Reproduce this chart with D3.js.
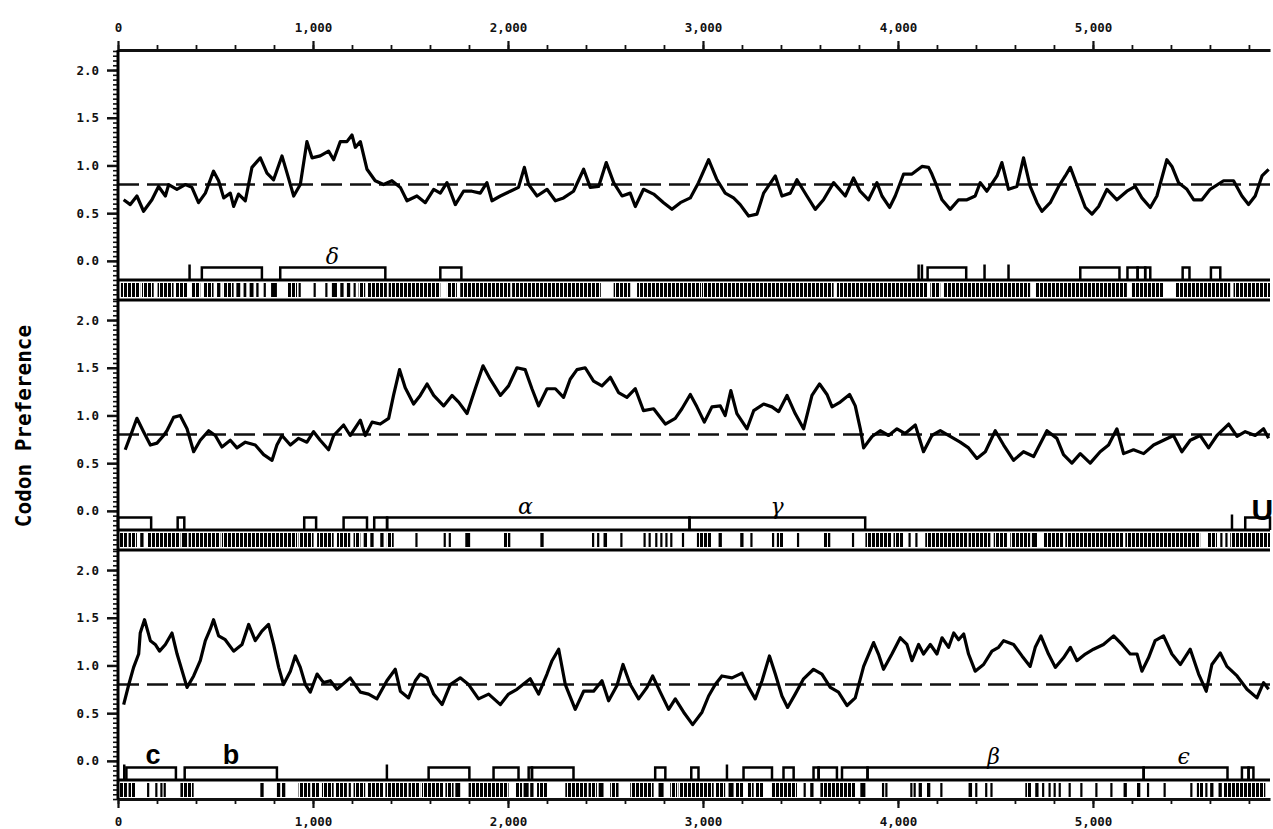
<!DOCTYPE html>
<html>
<head>
<meta charset="utf-8">
<script src="https://cdn.jsdelivr.net/npm/d3@7"></script>
<style>
body { margin: 0; background: #fff; }
svg { display: block; }
.axis text { font-family: "DejaVu Sans Mono", monospace; font-weight: bold; font-size: 12.5px; fill: #111; }
.axis line { stroke: #111; }
.axis path { stroke: #111; }
</style>
</head>
<body>
<svg width="1273" height="829"></svg>
<script>
// sequence extent and tick labels
var seqLength = 5908;
var xTicks = [0, 1000, 2000, 3000, 4000, 5000];
var yTicks = [0, 0.5, 1.0, 1.5, 2.0];
var cutoff = 0.8;

// codon preference traces: [position, value]
var trace1 = [[29,0.64],[63,0.59],[97,0.68],[131,0.52],[174,0.64],[208,0.78],[243,0.68],[260,0.80],[302,0.75],[345,0.80],[379,0.77],[413,0.61],[448,0.71],[490,0.94],[516,0.84],[542,0.66],[576,0.71],[593,0.57],[618,0.70],[653,0.63],[687,0.98],[730,1.08],[764,0.92],[798,0.85],[841,1.10],[867,0.92],[901,0.68],[935,0.80],[969,1.25],[995,1.08],[1037,1.10],[1080,1.15],[1106,1.06],[1140,1.25],[1174,1.25],[1200,1.32],[1217,1.19],[1243,1.25],[1277,0.96],[1319,0.84],[1362,0.80],[1405,0.84],[1448,0.77],[1482,0.63],[1533,0.68],[1576,0.61],[1619,0.75],[1653,0.71],[1687,0.82],[1730,0.59],[1772,0.73],[1815,0.73],[1858,0.71],[1892,0.82],[1918,0.63],[1961,0.68],[2012,0.73],[2054,0.77],[2084,0.98],[2106,0.80],[2149,0.68],[2200,0.75],[2243,0.63],[2285,0.66],[2336,0.73],[2388,0.96],[2422,0.77],[2465,0.78],[2504,1.03],[2542,0.82],[2585,0.68],[2627,0.71],[2653,0.57],[2695,0.75],[2747,0.70],[2798,0.61],[2841,0.54],[2884,0.61],[2935,0.66],[2977,0.82],[3029,1.06],[3072,0.85],[3114,0.71],[3157,0.66],[3191,0.59],[3234,0.47],[3277,0.49],[3311,0.71],[3371,0.89],[3405,0.68],[3448,0.71],[3482,0.85],[3533,0.68],[3576,0.54],[3618,0.64],[3670,0.82],[3730,0.68],[3772,0.87],[3806,0.73],[3849,0.64],[3892,0.82],[3918,0.68],[3957,0.56],[3986,0.68],[4029,0.91],[4072,0.91],[4123,0.99],[4157,0.98],[4174,0.91],[4200,0.78],[4226,0.64],[4268,0.54],[4311,0.64],[4354,0.64],[4396,0.68],[4422,0.82],[4456,0.73],[4508,0.89],[4533,1.03],[4567,0.75],[4610,0.78],[4644,1.08],[4678,0.78],[4713,0.61],[4738,0.52],[4781,0.61],[4824,0.78],[4858,0.89],[4884,0.98],[4926,0.75],[4961,0.56],[4995,0.49],[5029,0.57],[5072,0.75],[5123,0.64],[5174,0.73],[5217,0.78],[5251,0.66],[5294,0.56],[5328,0.68],[5379,1.06],[5405,0.99],[5439,0.82],[5482,0.75],[5517,0.64],[5559,0.64],[5601,0.75],[5670,0.84],[5721,0.84],[5764,0.68],[5798,0.59],[5832,0.68],[5867,0.89],[5901,0.96]];

var trace2 = [[37,0.64],[72,0.83],[97,0.97],[131,0.83],[166,0.69],[200,0.71],[234,0.79],[251,0.84],[285,0.98],[319,1.00],[354,0.86],[388,0.62],[422,0.74],[465,0.84],[499,0.79],[533,0.67],[576,0.74],[610,0.66],[653,0.72],[704,0.69],[747,0.59],[790,0.53],[815,0.69],[841,0.79],[884,0.69],[926,0.76],[969,0.72],[1003,0.83],[1037,0.74],[1080,0.64],[1106,0.79],[1157,0.90],[1191,0.79],[1243,0.95],[1268,0.79],[1303,0.93],[1345,0.91],[1388,0.97],[1413,1.21],[1444,1.48],[1473,1.29],[1516,1.12],[1550,1.21],[1585,1.33],[1619,1.21],[1670,1.10],[1713,1.21],[1747,1.14],[1790,1.02],[1832,1.28],[1872,1.52],[1909,1.38],[1961,1.21],[2003,1.31],[2046,1.50],[2088,1.48],[2123,1.28],[2157,1.10],[2200,1.28],[2243,1.28],[2285,1.19],[2319,1.38],[2354,1.48],[2396,1.50],[2439,1.36],[2482,1.31],[2525,1.40],[2567,1.24],[2610,1.19],[2653,1.28],[2695,1.05],[2747,1.07],[2807,0.91],[2858,0.97],[2892,1.07],[2935,1.22],[2969,1.09],[3007,0.93],[3046,1.09],[3089,1.10],[3114,1.00],[3143,1.26],[3174,1.02],[3226,0.86],[3260,1.05],[3311,1.12],[3354,1.09],[3388,1.04],[3431,1.21],[3473,1.02],[3516,0.86],[3559,1.21],[3598,1.33],[3636,1.22],[3662,1.09],[3704,1.14],[3752,1.22],[3781,1.10],[3807,0.86],[3824,0.66],[3867,0.78],[3909,0.84],[3952,0.79],[3995,0.86],[4037,0.81],[4089,0.90],[4131,0.62],[4174,0.79],[4217,0.84],[4268,0.78],[4319,0.72],[4362,0.66],[4405,0.55],[4448,0.62],[4499,0.84],[4542,0.69],[4593,0.53],[4644,0.62],[4696,0.57],[4764,0.84],[4815,0.76],[4849,0.59],[4892,0.50],[4935,0.60],[4986,0.50],[5037,0.62],[5080,0.69],[5123,0.86],[5157,0.60],[5208,0.64],[5260,0.60],[5311,0.69],[5362,0.74],[5413,0.79],[5456,0.62],[5499,0.74],[5550,0.79],[5593,0.66],[5636,0.79],[5696,0.91],[5739,0.78],[5781,0.83],[5832,0.79],[5875,0.86],[5901,0.76]];

var trace3 = [[29,0.59],[54,0.79],[80,0.98],[106,1.12],[114,1.34],[136,1.48],[166,1.26],[191,1.22],[213,1.15],[243,1.22],[277,1.34],[303,1.12],[354,0.77],[388,0.89],[422,1.05],[448,1.26],[473,1.38],[490,1.48],[516,1.31],[550,1.27],[593,1.15],[636,1.22],[670,1.43],[704,1.26],[738,1.36],[772,1.43],[798,1.22],[824,0.98],[849,0.80],[884,0.94],[909,1.10],[935,0.98],[961,0.80],[986,0.72],[1021,0.91],[1054,0.82],[1089,0.84],[1123,0.75],[1191,0.87],[1243,0.72],[1285,0.70],[1328,0.65],[1379,0.84],[1422,0.96],[1448,0.73],[1490,0.66],[1525,0.84],[1550,0.91],[1585,0.87],[1619,0.70],[1662,0.59],[1704,0.80],[1755,0.87],[1798,0.80],[1849,0.65],[1901,0.70],[1961,0.59],[2003,0.70],[2046,0.75],[2114,0.86],[2157,0.70],[2200,0.91],[2226,1.05],[2260,1.17],[2294,0.80],[2345,0.54],[2388,0.73],[2439,0.73],[2482,0.84],[2516,0.63],[2559,0.79],[2590,1.01],[2627,0.80],[2670,0.65],[2713,0.77],[2742,0.89],[2781,0.72],[2824,0.54],[2858,0.65],[2901,0.51],[2947,0.38],[2995,0.51],[3029,0.68],[3063,0.80],[3097,0.89],[3149,0.87],[3200,0.92],[3234,0.77],[3268,0.65],[3303,0.84],[3341,1.10],[3371,0.91],[3405,0.68],[3434,0.56],[3473,0.70],[3516,0.86],[3567,0.96],[3610,0.91],[3653,0.77],[3695,0.72],[3739,0.58],[3781,0.66],[3824,0.99],[3875,1.24],[3900,1.12],[3926,0.96],[3969,1.12],[4012,1.29],[4046,1.22],[4072,1.05],[4106,1.22],[4131,1.12],[4166,1.22],[4200,1.12],[4226,1.29],[4260,1.19],[4286,1.34],[4311,1.27],[4337,1.33],[4362,1.12],[4396,0.94],[4439,1.01],[4482,1.15],[4516,1.19],[4542,1.26],[4593,1.22],[4636,1.10],[4678,0.99],[4704,1.19],[4733,1.31],[4772,1.12],[4807,0.98],[4849,1.08],[4884,1.19],[4918,1.05],[4961,1.12],[5003,1.17],[5054,1.22],[5106,1.31],[5149,1.22],[5191,1.12],[5226,1.12],[5251,0.94],[5285,1.08],[5319,1.26],[5362,1.31],[5405,1.12],[5448,1.01],[5499,1.17],[5542,0.91],[5581,0.73],[5610,1.01],[5653,1.13],[5687,0.99],[5739,0.89],[5790,0.75],[5841,0.66],[5875,0.82],[5901,0.75]];

// open reading frames: [start, end, label, labelPos]
var orfs1 = [[367,367],[430,738],[832,1371,"δ",1100],[1653,1761],[4106,4106],[4123,4123],[4152,4350],[4444,4444],[4567,4567],[4935,5136],[5177,5229],[5229,5268],[5268,5294],[5460,5495],[5605,5653]];
var orfs2 = [[0,170],[306,340],[955,1016],[1157,1277],[1314,1380],[1380,2931,"α",2090],[2931,3832,"γ",3380],[5713,5713],[5781,5908,"U",5869]];
var orfs3 = [[32,32],[43,297,"c",180],[342,815,"b",580],[1379,1379],[1593,1802],[1926,2054],[2106,2123],[2123,2336],[2755,2807],[2940,2977],[3123,3123],[3208,3354],[3413,3465],[3567,3593],[3593,3687],[3713,3844],[3844,5260,"β",4490],[5260,5690,"ϵ",5465],[5764,5798],[5798,5823]];

// stop codon marks: [start, end]
var stops1 = [[15,114],[123,183],[203,285],[294,354],[379,422],[436,490],[508,525],[538,593],[607,627],[644,658],[675,695],[709,721],[747,755],[785,815],[870,918],[926,935],[1003,1012],[1063,1072],[1097,1123],[1140,1157],[1174,1191],[1208,1217],[1234,1268],[1277,1379],[1388,1653],[1687,1738],[1755,2012],[2021,2476],[2542,2627],[2662,2990],[2995,3670],[3687,4149],[4166,4217],[4234,4678],[4704,5174],[5200,5362],[5422,5704],[5721,5908]];
var stops2 = [[0,46],[54,97],[114,131],[149,320],[328,354],[362,525],[533,918],[926,1003],[1021,1106],[1123,1191],[1208,1243],[1260,1277],[1294,1311],[1345,1362],[1379,1414],[1525,1533],[1670,1670],[1696,1696],[1781,1806],[1977,2012],[2166,2183],[2431,2431],[2457,2457],[2490,2508],[2576,2576],[2695,2695],[2721,2721],[2755,2755],[2781,2781],[2807,2807],[2832,2832],[2892,2892],[2969,3046],[3080,3097],[3191,3208],[3243,3243],[3354,3354],[3379,3413],[3482,3482],[3619,3653],[3764,3772],[3833,3969],[3977,4029],[4054,4063],[4089,4097],[4140,4354],[4362,4474],[4491,4559],[4576,4678],[4687,4713],[4747,4850],[4858,5157],[5166,5550],[5585,5636],[5653,5661],[5679,5687],[5704,5908]];
var stops3 = [[0,46],[54,89],[149,157],[191,200],[217,225],[234,243],[320,388],[730,747],[815,832],[841,858],[926,986],[995,1036],[1046,1106],[1114,1174],[1183,1191],[1208,1268],[1277,1362],[1371,1482],[1490,1550],[1559,1670],[1679,1721],[1730,1755],[1798,2003],[2037,2072],[2080,2106],[2114,2131],[2149,2200],[2294,2405],[2413,2456],[2465,2490],[2524,2567],[2627,2747],[2772,2798],[2832,2867],[2875,3055],[3063,3114],[3131,3157],[3166,3208],[3226,3260],[3268,3311],[3354,3482],[3516,3525],[3550,3567],[3602,3781],[3807,3833],[3918,3926],[3935,3943],[4063,4072],[4080,4089],[4106,4123],[4149,4166],[4217,4226],[4362,4380],[4396,4405],[4447,4456],[4474,4482],[4653,4687],[4704,4721],[4739,4747],[4772,4781],[4798,4807],[4824,4833],[4875,4884],[4935,4943],[5012,5021],[5089,5097],[5157,5174],[5226,5243],[5277,5285],[5362,5371],[5499,5508],[5533,5568],[5576,5585],[5601,5618],[5644,5661],[5670,5884]];

var svg = d3.select('svg');
var left = 118, right = 1270;
var panelH = 250;
var panels = [
    {top: 50, trace: trace1, orfs: orfs1, stops: stops1},
    {top: 300, trace: trace2, orfs: orfs2, stops: stops2},
    {top: 550, trace: trace3, orfs: orfs3, stops: stops3}
];
var bottom = panels[2].top + panelH - 1;

var x = d3.scaleLinear().domain([0, seqLength]).range([left, right]);

// striped fill for the stop codon band
svg.append('defs').append('pattern')
    .attr('id', 'stripes')
    .attr('patternUnits', 'userSpaceOnUse')
    .attr('width', 4).attr('height', 20)
    .append('rect')
    .attr('width', 3).attr('height', 20)
    .attr('fill', '#000');

panels.forEach(function (p) {
    var y = d3.scaleLinear().domain([-0.41, 2.21]).range([p.top + panelH, p.top]);
    var g = svg.append('g');

    // y axis minor + major ticks
    var minor = d3.range(-40, 221, 5).map(function (d) { return d / 100; });
    g.append('g').attr('class', 'axis')
        .attr('transform', 'translate(' + left + ',0)')
        .call(d3.axisLeft(y).tickValues(minor).tickSize(5).tickFormat(''))
        .call(function (a) { a.select('.domain').remove(); })
        .selectAll('line').attr('stroke-width', 1.6);
    g.append('g').attr('class', 'axis')
        .attr('transform', 'translate(' + left + ',0)')
        .call(d3.axisLeft(y).tickValues(yTicks).tickSize(11).tickPadding(8).tickFormat(d3.format('.1f')))
        .call(function (a) { a.select('.domain').remove(); })
        .selectAll('line').attr('stroke-width', 2.5);

    // cutoff dashed line
    g.append('line')
        .attr('x1', left).attr('x2', right)
        .attr('y1', y(cutoff)).attr('y2', y(cutoff))
        .attr('stroke', '#111').attr('stroke-width', 2.6)
        .attr('stroke-dasharray', '21,8');

    // trace
    var line = d3.line()
        .x(function (d) { return x(d[0]); })
        .y(function (d) { return y(d[1]); });
    g.append('path')
        .datum(p.trace)
        .attr('d', line)
        .attr('fill', 'none')
        .attr('stroke', '#000')
        .attr('stroke-width', 3.2)
        .attr('stroke-linejoin', 'round');

    // ORF brackets
    var base = p.top + 230, topY = p.top + 217.5;
    g.append('line')
        .attr('x1', left).attr('x2', right)
        .attr('y1', base).attr('y2', base)
        .attr('stroke', '#000').attr('stroke-width', 2.8);
    g.selectAll('.orf')
        .data(p.orfs)
        .enter().append('path')
        .attr('class', 'orf')
        .attr('d', function (d) {
            var x0 = x(d[0]), x1 = x(d[1]);
            if (x1 - x0 < 1) return 'M' + x0 + ',' + base + 'V' + (topY - 3);
            return 'M' + x0 + ',' + base + 'V' + topY + 'H' + x1 + 'V' + base;
        })
        .attr('fill', 'none')
        .attr('stroke', '#000')
        .attr('stroke-width', 2.5);

    // ORF labels
    g.selectAll('.orflabel')
        .data(p.orfs.filter(function (d) { return d[2]; }))
        .enter().append('text')
        .attr('class', 'orflabel')
        .attr('x', function (d) { return x(d[3]); })
        .attr('y', function (d) { return d[2] === 'U' ? p.top + 220 : p.top + 214; })
        .attr('text-anchor', 'middle')
        .attr('fill', '#000')
        .style('font-family', function (d) { return /[a-zA-Z]/.test(d[2]) ? '"Liberation Sans", Arial, sans-serif' : '"DejaVu Serif", serif'; })
        .style('font-style', function (d) { return /[a-zA-Z]/.test(d[2]) ? 'normal' : 'italic'; })
        .style('font-weight', function (d) { return /[a-zA-Z]/.test(d[2]) ? 'bold' : 'normal'; })
        .style('font-size', function (d) { return d[2] === 'U' ? '30px' : (/[a-zA-Z]/.test(d[2]) ? '27px' : '22px'); })
        .text(function (d) { return d[2]; });

    // stop codon band
    g.selectAll('.stop')
        .data(p.stops)
        .enter().append('rect')
        .attr('class', 'stop')
        .attr('x', function (d) { return x(d[0]); })
        .attr('y', p.top + 233)
        .attr('width', function (d) { return Math.max(2.2, x(d[1]) - x(d[0])); })
        .attr('height', 14)
        .attr('fill', function (d) { return x(d[1]) - x(d[0]) > 6 ? 'url(#stripes)' : '#000'; });
});

// panel separators
[300, 550].forEach(function (yy) {
    svg.append('line')
        .attr('x1', left).attr('x2', right)
        .attr('y1', yy).attr('y2', yy)
        .attr('stroke', '#000').attr('stroke-width', 3);
});

// top axis
var minorX = d3.range(0, seqLength, 200);
svg.append('g').attr('class', 'axis')
    .attr('transform', 'translate(0,50)')
    .call(d3.axisTop(x).tickValues(minorX).tickSize(5).tickFormat(''))
    .call(function (a) { a.select('.domain').remove(); })
    .selectAll('line').attr('stroke-width', 1.8);
svg.append('g').attr('class', 'axis')
    .attr('transform', 'translate(0,50)')
    .call(d3.axisTop(x).tickValues(xTicks).tickSize(9).tickSizeOuter(0).tickPadding(9).tickFormat(d3.format(',')))
    .call(function (a) {
        a.select('.domain').attr('stroke-width', 3);
        a.selectAll('line').attr('stroke-width', 2.2);
    });

// bottom axis
svg.append('g').attr('class', 'axis')
    .attr('transform', 'translate(0,' + bottom + ')')
    .call(d3.axisBottom(x).tickValues(minorX).tickSize(5).tickFormat(''))
    .call(function (a) { a.select('.domain').remove(); })
    .selectAll('line').attr('stroke-width', 1.8);
svg.append('g').attr('class', 'axis')
    .attr('transform', 'translate(0,' + bottom + ')')
    .call(d3.axisBottom(x).tickValues(xTicks).tickSize(9).tickSizeOuter(0).tickPadding(9).tickFormat(d3.format(',')))
    .call(function (a) {
        a.select('.domain').attr('stroke-width', 3);
        a.selectAll('line').attr('stroke-width', 2.2);
    });

// y axis spine
svg.append('line')
    .attr('x1', left).attr('x2', left)
    .attr('y1', 50).attr('y2', bottom)
    .attr('stroke', '#000').attr('stroke-width', 3);

// y axis title
svg.append('text')
    .attr('transform', 'translate(24,426) rotate(-90)')
    .attr('text-anchor', 'middle')
    .attr('dominant-baseline', 'central')
    .style('font-family', '"DejaVu Sans Mono", monospace')
    .style('font-weight', 'bold')
    .style('font-size', '21px')
    .attr('fill', '#000')
    .text('Codon Preference');
</script>
</body>
</html>
